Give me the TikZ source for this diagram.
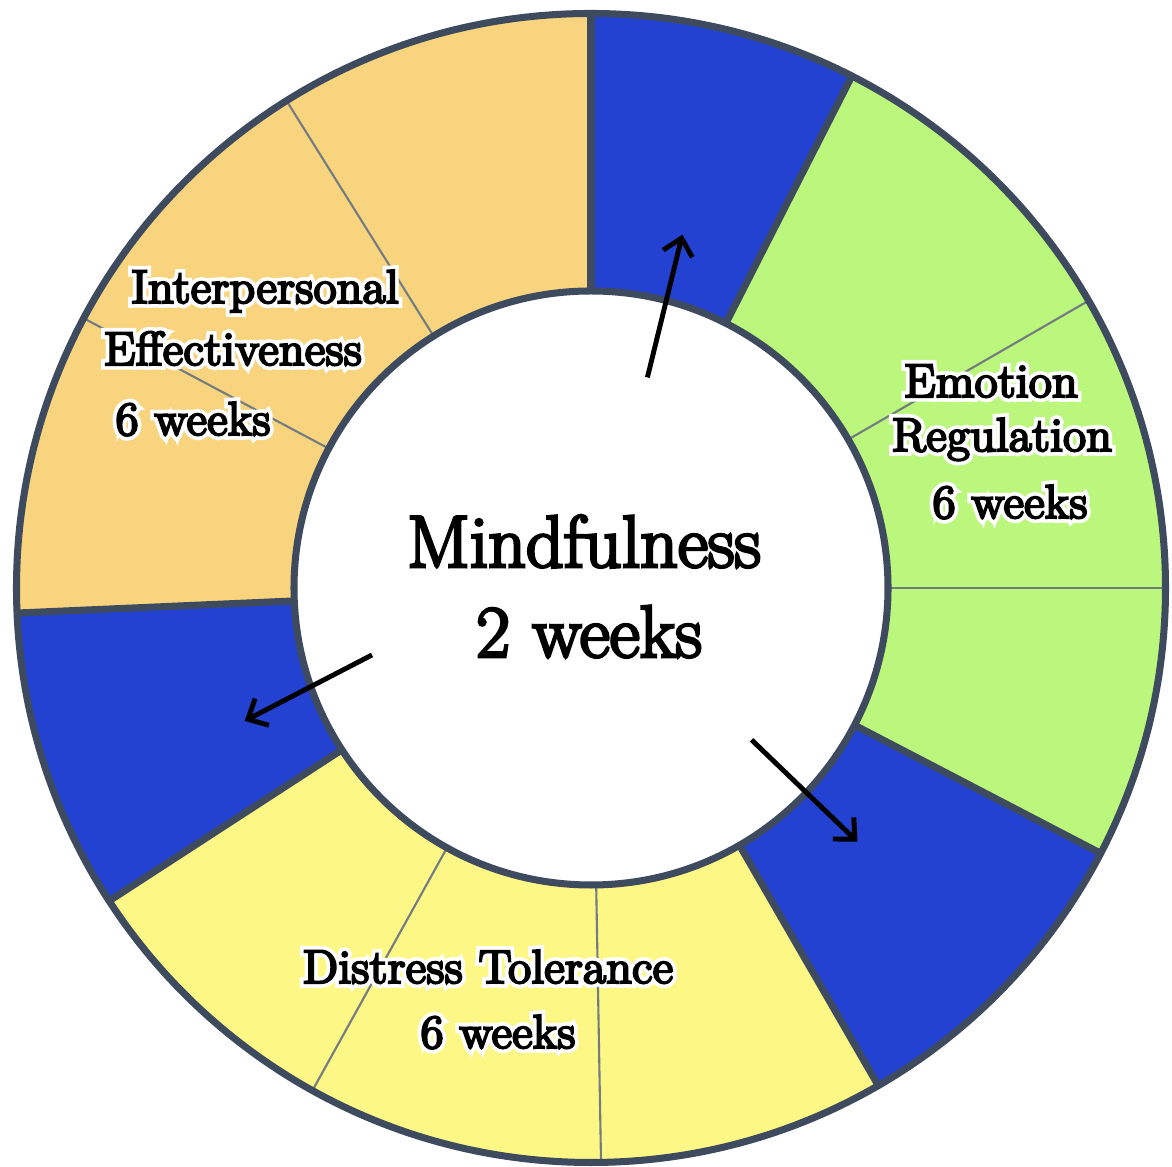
\documentclass[tikz,border=0pt]{standalone}
\usepackage{tikz}
\usepackage{xcolor}
\usepackage{fontspec}
\usetikzlibrary{arrows.meta,calc}
\newfontfamily\lblfont{Latin Modern Roman}[FakeBold=4.5]
\newfontfamily\bigfont{Latin Modern Roman}[FakeBold=4]
\newfontfamily\glowfont{Latin Modern Roman}[FakeBold=20]
\definecolor{dbtblue}{RGB}{35,66,210}
\definecolor{dbtgreen}{RGB}{187,247,124}
\definecolor{dbtorange}{RGB}{248,212,126}
\definecolor{dbtyellow}{RGB}{253,247,134}
\definecolor{dbtedge}{RGB}{62,74,94}
\definecolor{dbtthin}{RGB}{115,124,128}

% white glow behind a label
\newcommand{\halo}[1]{\leavevmode\rlap{\glowfont\textcolor{white}{#1}}#1}

\begin{document}
\begin{tikzpicture}
  \tikzset{
    edge/.style={draw=dbtedge, line width=2pt},
    thinline/.style={draw=dbtthin, line width=0.6pt},
    label/.style={anchor=base, inner sep=0pt, font=\lblfont\fontsize{13.5}{16}\selectfont},
    bigLabel/.style={anchor=base, inner sep=0pt, font=\bigfont\fontsize{21}{25}\selectfont},
    pointer/.style={line width=1.4pt, -{Straight Barb[length=1.6mm,width=3mm]}}
  }
  \def\rOut{5.745}
  \def\rIn{2.97}
  \useasboundingbox (0,0) rectangle (11.72,11.67);

  % ring
  \begin{scope}[shift={(5.91,5.79)}]
    \foreach \a/\b/\col in {90/63/dbtblue, 63/-27.5/dbtgreen, -27.5/-60/dbtblue,
                            -60/-147/dbtyellow, -147/-177.5/dbtblue, 182.5/90/dbtorange} {
      \fill[\col] (\a:\rOut) arc[start angle=\a, end angle=\b, radius=\rOut]
        -- (\b:\rIn) arc[start angle=\b, end angle=\a, radius=\rIn] -- cycle;
    }
    \foreach \t in {30,0,-89,-119,122,152}
      \draw[thinline] (\t:\rIn) -- (\t:\rOut);
    \foreach \t in {90,63,-27.5,-60,-147,182.5}
      \draw[edge] (\t:\rIn) -- (\t:\rOut);
    \draw[edge, fill=white] (0,0) circle[radius=\rIn];
    \draw[edge] (0,0) circle[radius=\rOut];

    % arrow ends
    \coordinate (tailTop)   at (75:2.18);
    \coordinate (tipTop)    at (75.5:3.65);
    \coordinate (tailLeft)  at (197:2.29);
    \coordinate (tipLeft)   at (201:3.71);
    \coordinate (tailRight) at (-43.4:2.21);
    \coordinate (tipRight)  at (-43.6:3.68);
  \end{scope}

  \draw[pointer] (tailTop) -- (tipTop);
  \draw[pointer] (tailLeft) -- (tipLeft);
  \draw[pointer] (tailRight) -- (tipRight);

  % labels
  \node[bigLabel] (mind)  at (5.84,6.00) {Mindfulness};
  \node[bigLabel] (mindW) at (5.89,5.10) {2 weeks};

  \node[label] (ipA) at (2.65,8.64) {\halo{Interpersonal}};
  \node[label] (ipB) at (2.33,8.02) {\halo{Effectiveness}};
  \node[label] (ipC) at (1.93,7.32) {\halo{6 weeks}};

  \node[label] (erA) at (9.91,7.70) {\halo{Emotion}};
  \node[label] (erB) at (10.02,7.16) {\halo{Regulation}};
  \node[label] (erC) at (10.10,6.49) {\halo{6 weeks}};

  \node[label] (dtA) at (4.88,1.84) {\halo{Distress Tolerance}};
  \node[label] (dtB) at (4.98,1.19) {\halo{6 weeks}};
\end{tikzpicture}
\end{document}
